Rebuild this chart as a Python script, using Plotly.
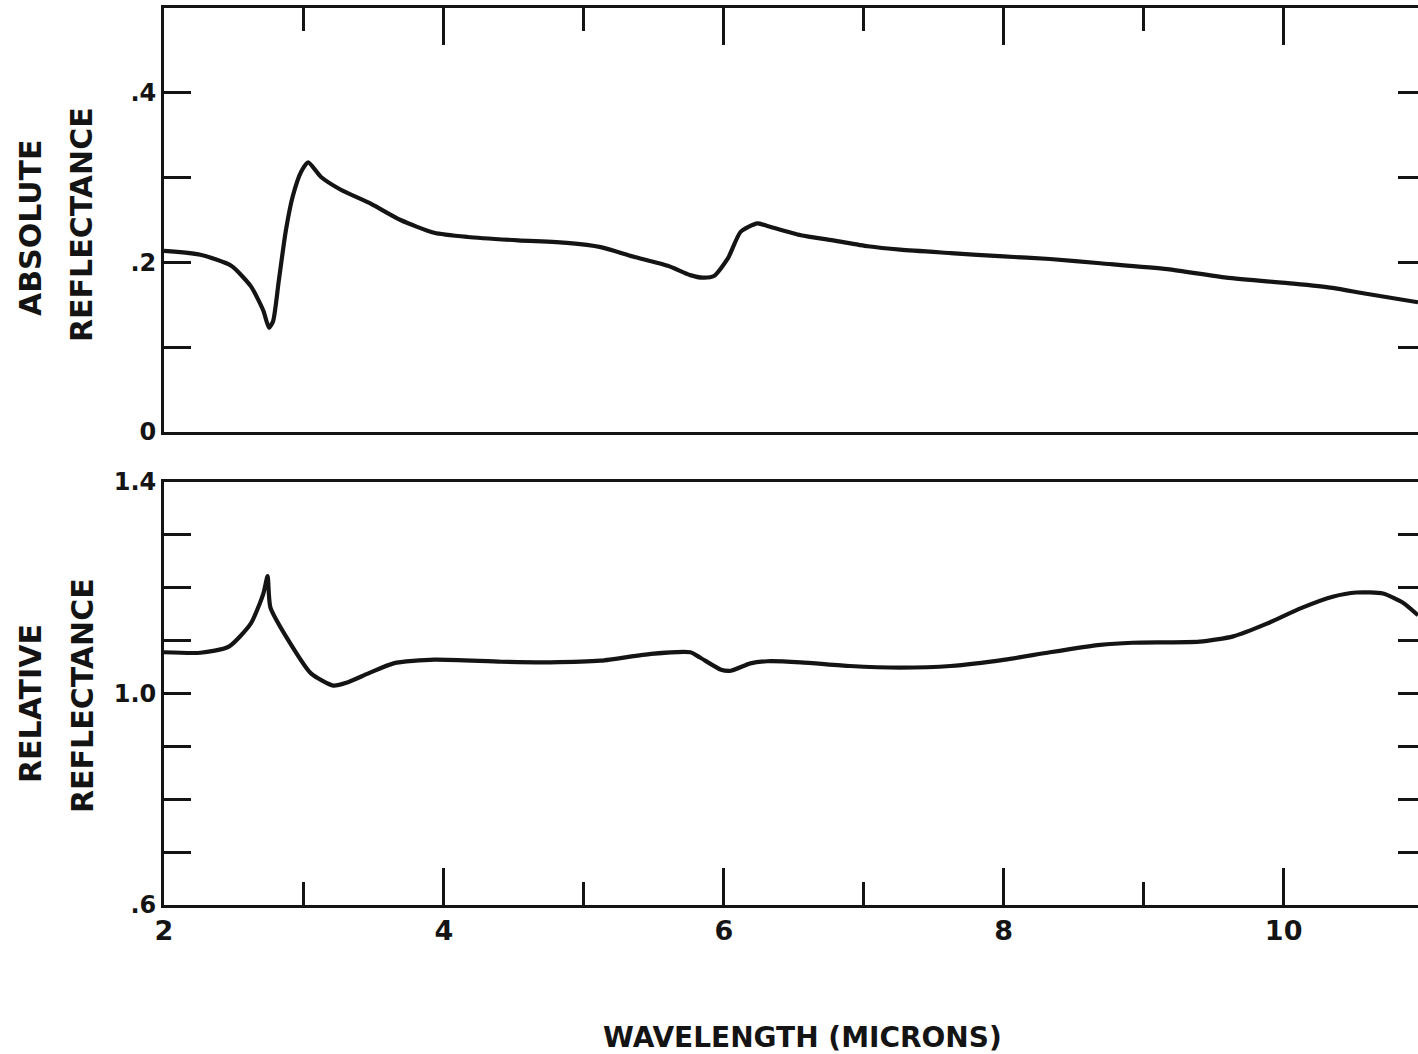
import plotly.graph_objects as go

# ---- data ----
abs_wl = [2.00, 2.26, 2.48, 2.62, 2.71, 2.75, 2.78, 2.82, 2.87, 2.92, 2.98, 3.03,
          3.12, 3.26, 3.48, 3.69, 3.93, 4.17, 4.53, 4.88, 5.12, 5.35, 5.60, 5.76,
          5.85, 5.93, 6.03, 6.12, 6.24, 6.31, 6.55, 6.78, 7.03, 7.26, 7.62, 8.00,
          8.33, 8.69, 9.17, 9.59, 10.07, 10.35, 10.59, 10.96]
abs_refl = [0.2135, 0.209, 0.196, 0.172, 0.143, 0.123, 0.131, 0.178, 0.237, 0.278, 0.307, 0.318,
            0.301, 0.286, 0.269, 0.250, 0.235, 0.230, 0.226, 0.223, 0.218, 0.207, 0.196, 0.185,
            0.182, 0.184, 0.205, 0.236, 0.246, 0.243, 0.232, 0.226, 0.219, 0.215, 0.211, 0.207,
            0.204, 0.199, 0.192, 0.182, 0.175, 0.170, 0.163, 0.153]

rel_wl = [2.00, 2.26, 2.46, 2.62, 2.71, 2.74, 2.76, 2.89, 3.05, 3.21, 3.31, 3.46,
          3.64, 3.93, 4.41, 4.76, 5.12, 5.48, 5.76, 5.83, 5.98, 6.05, 6.19, 6.31,
          6.55, 6.90, 7.26, 7.62, 8.01, 8.33, 8.69, 8.92, 9.40, 9.64, 9.88, 10.12,
          10.35, 10.52, 10.71, 10.85, 10.96]
rel_refl = [1.078, 1.077, 1.088, 1.132, 1.189, 1.222, 1.163, 1.100, 1.038, 1.015, 1.021, 1.038,
            1.057, 1.064, 1.060, 1.059, 1.062, 1.075, 1.078, 1.068, 1.045, 1.043, 1.057, 1.061,
            1.059, 1.052, 1.049, 1.052, 1.064, 1.078, 1.092, 1.096, 1.098, 1.108, 1.132, 1.161,
            1.183, 1.191, 1.189, 1.172, 1.148]

abs_tickvals = [0, 0.1, 0.2, 0.3, 0.4, 0.5]
abs_ticktext = ["0", "", ".2", "", ".4", ""]
rel_tickvals = [0.6, 0.7, 0.8, 0.9, 1.0, 1.1, 1.2, 1.3, 1.4]
rel_ticktext = [".6", "", "", "", "1.0", "", "", "", "1.4"]
x_tickvals = [2, 4, 6, 8, 10]
x_ticktext = ["2", "4", "6", "8", "10"]

INK = "#141414"
FONT = "DejaVu Sans"
LW = 2.8

fig = go.Figure()
fig.add_trace(go.Scatter(x=abs_wl, y=abs_refl, mode="lines", xaxis="x", yaxis="y",
                         line=dict(color=INK, width=4.2, shape="spline", smoothing=0.6),
                         hoverinfo="skip", showlegend=False))
fig.add_trace(go.Scatter(x=rel_wl, y=rel_refl, mode="lines", xaxis="x2", yaxis="y2",
                         line=dict(color=INK, width=4.2, shape="spline", smoothing=0.6),
                         hoverinfo="skip", showlegend=False))
# invisible traces so the right-hand tick axes are drawn
fig.add_trace(go.Scatter(x=[abs_wl[0]], y=[abs_refl[0]], mode="markers", xaxis="x", yaxis="y3",
                         marker=dict(opacity=0), hoverinfo="skip", showlegend=False))
fig.add_trace(go.Scatter(x=[rel_wl[0]], y=[rel_refl[0]], mode="markers", xaxis="x2", yaxis="y4",
                         marker=dict(opacity=0), hoverinfo="skip", showlegend=False))

xr = [2, 10.96]
top_dom = [0.5273, 1.0]
bot_dom = [0.0, 0.4716]

common_x = dict(range=xr, showgrid=False, zeroline=False, showline=True, linecolor=INK,
                linewidth=LW, ticks="inside", ticklen=37, tickwidth=LW, tickcolor=INK,
                tickvals=x_tickvals, mirror=True,
                minor=dict(dtick=1, tick0=2, ticks="inside", ticklen=23, tickwidth=LW, tickcolor=INK))

fig.update_layout(
    width=1418, height=1054,
    margin=dict(l=164, r=0, t=8, b=149, autoexpand=False),
    paper_bgcolor="white", plot_bgcolor="white",
    font=dict(family=FONT, color=INK, size=24, weight="bold"),
    xaxis=dict(**common_x, domain=[0, 1], anchor="y", side="top", showticklabels=False),
    xaxis2=dict(**common_x, domain=[0, 1], anchor="y2", side="bottom", ticktext=x_ticktext,
                showticklabels=True, tickfont=dict(size=27, family=FONT, color=INK, weight="bold")),
    yaxis=dict(domain=top_dom, range=[0, 0.5], anchor="x", showgrid=False, zeroline=False,
               showline=True, linecolor=INK, linewidth=LW, ticks="inside", ticklen=27,
               tickwidth=LW, tickcolor=INK, tickvals=abs_tickvals, ticktext=abs_ticktext,
               tickfont=dict(size=24, family=FONT, color=INK, weight="bold")),
    yaxis2=dict(domain=bot_dom, range=[0.6, 1.4], anchor="x2", showgrid=False, zeroline=False,
                showline=True, linecolor=INK, linewidth=LW, ticks="inside", ticklen=27,
                tickwidth=LW, tickcolor=INK, tickvals=rel_tickvals, ticktext=rel_ticktext,
                tickfont=dict(size=24, family=FONT, color=INK, weight="bold")),
    yaxis3=dict(overlaying="y", side="right", anchor="x", range=[0, 0.5], showgrid=False,
                zeroline=False, showline=False, ticks="inside", ticklen=20, tickwidth=LW,
                tickcolor=INK, tickvals=abs_tickvals[1:5], showticklabels=False),
    yaxis4=dict(overlaying="y2", side="right", anchor="x2", range=[0.6, 1.4], showgrid=False,
                zeroline=False, showline=False, ticks="inside", ticklen=20, tickwidth=LW,
                tickcolor=INK, tickvals=rel_tickvals[1:8], showticklabels=False),
)

def ytitle(text, px, py):
    fig.add_annotation(text=text, xref="paper", yref="paper",
                       x=(px - 164) / 1254, y=(905 - py) / 897,
                       xanchor="center", yanchor="middle", textangle=-90, showarrow=False,
                       font=dict(size=30, family=FONT, color=INK, weight="bold"))

ytitle("ABSOLUTE", 30, 228)
ytitle("REFLECTANCE", 81, 225)
ytitle("RELATIVE", 30, 704)
ytitle("REFLECTANCE", 82, 696)

fig.add_annotation(text="WAVELENGTH (MICRONS)", xref="paper", yref="paper",
                   x=(802 - 164) / 1254, y=(905 - 1037) / 897, xanchor="center", yanchor="middle",
                   showarrow=False, font=dict(size=28, family=FONT, color=INK, weight="bold"))

fig.write_html("out.html")
